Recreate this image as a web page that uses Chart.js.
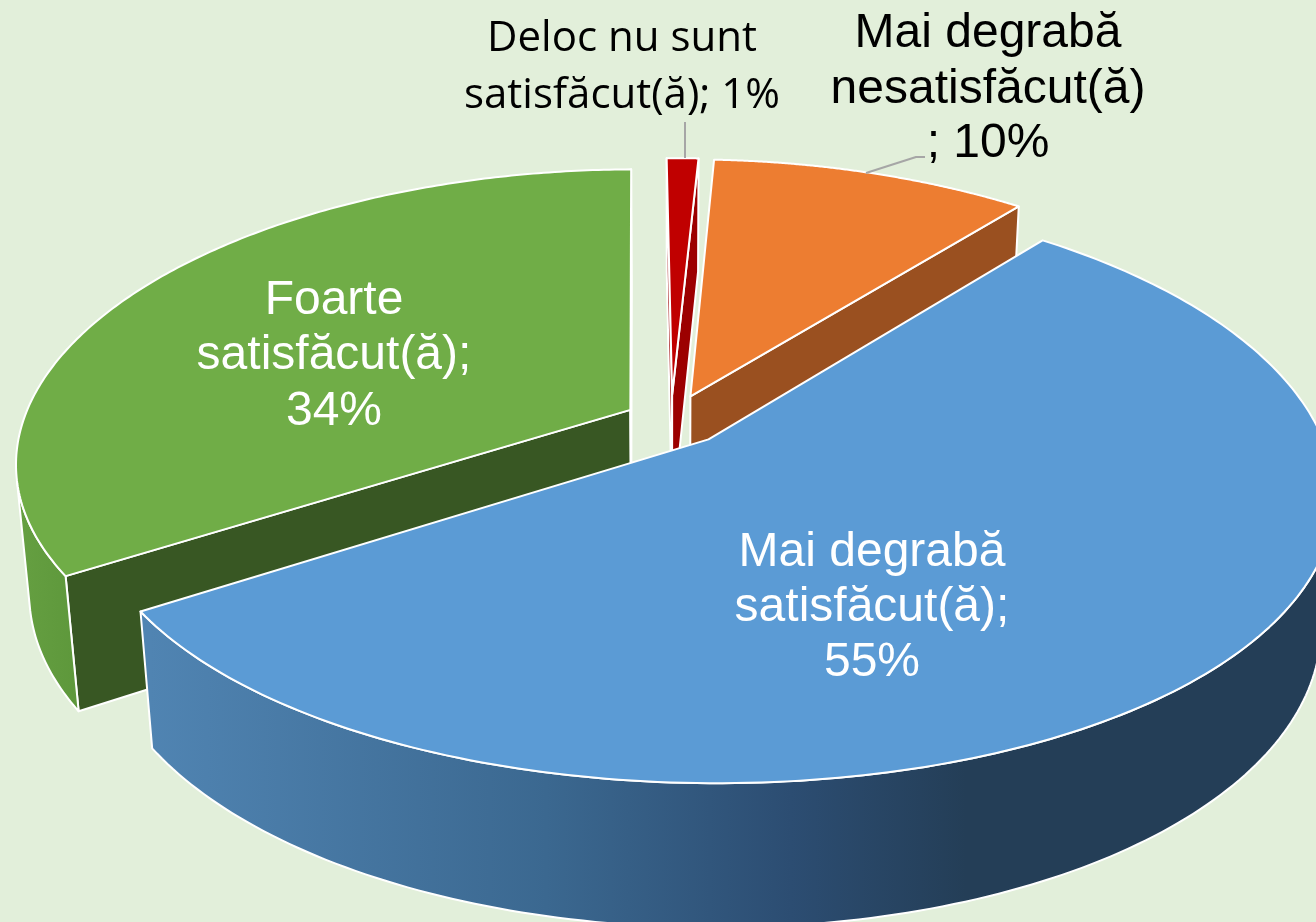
<!DOCTYPE html>
<html><head><meta charset="utf-8">
<style>html,body{margin:0;padding:0;background:#e2efda;overflow:hidden}canvas{display:block}</style>
<script src="https://cdn.jsdelivr.net/npm/chart.js@4"></script>
</head><body><div style="width:1316px;height:922px"><canvas id="c" width="1316" height="922"></canvas></div>
<script>
const categories=["Deloc nu sunt satisfăcut(ă)","Mai degrabă nesatisfăcut(ă)","Mai degrabă satisfăcut(ă)","Foarte satisfăcut(ă)"];
const values=[1,10,55,34];
const explode=[141,141,142,119];
const topColors=["#c00000","#ed7d31","#5b9bd5","#70ad47"];
const radialColors=["#9c0000","#9a5020","#2c4d72","#385723"];
const labelLines=[["Deloc nu sunt","satisfăcut(ă); 1%"],["Mai degrabă","nesatisfăcut(ă)","; 10%"],["Mai degrabă","satisfăcut(ă);","55%"],["Foarte","satisfăcut(ă);","34%"]];
const labelStyle=[
 {x:622,y:[51,108],font:'42px "Open Sans"',color:'#000'},
 {x:988,y:[47,103,157],font:'48px "Liberation Sans"',color:'#000'},
 {x:872,y:[566,621,676],font:'48px "Liberation Sans"',color:'#fff'},
 {x:334,y:[314,369,425],font:'48px "Liberation Sans"',color:'#fff'}];
const view={x0:671,y0:420,S:607,T:282,H:130,g:0.16,gx:0.18,k:0.02};
function project(u,v,z){const w=1-view.g*v+view.k*z,wx=1-view.gx*v+view.k*z;return [view.x0+view.S*u/wx,view.y0+(view.T*v+view.H*z)/w];}
function area(p){let s=0;p.forEach((q,i)=>{const r=p[(i+1)%p.length];s+=q[0]*r[1]-r[0]*q[1];});return s/2;}
const scene={id:'scene',
 beforeDatasetDraw(){return false;},
 afterDatasetsDraw(chart){
  const ctx=chart.ctx,arcs=chart.getDatasetMeta(0).data;
  const order=[0,1,3,2];
  for(const i of order){
   const a=arcs[i],R=a.outerRadius,mid=(a.startAngle+a.endAngle)/2,e=(a.options.offset/4)/R;
   const ox=Math.cos(mid)*e,oy=Math.sin(mid)*e;
   const pt=(ang,r,z)=>project(ox+r*Math.cos(ang),oy+r*Math.sin(ang),z);
   const poly=(pts,fill)=>{ctx.beginPath();pts.forEach((p,n)=>n?ctx.lineTo(p[0],p[1]):ctx.moveTo(p[0],p[1]));ctx.closePath();ctx.fillStyle=fill;ctx.fill();ctx.strokeStyle='#fff';ctx.lineWidth=2;ctx.lineJoin='round';ctx.stroke();};
   const N=200,sweep=[];for(let n=0;n<=N;n++)sweep.push(a.startAngle+(a.endAngle-a.startAngle)*n/N);
   // radial faces, only when turned towards the viewer
   const rs=[pt(0,0,0),pt(a.startAngle,1,0),pt(a.startAngle,1,1),pt(0,0,1)];
   const re=[pt(0,0,0),pt(a.endAngle,1,0),pt(a.endAngle,1,1),pt(0,0,1)];
   if(area(rs)<0)poly(rs,radialColors[i]);
   if(area(re)>0)poly(re,radialColors[i]);
   // outer face, only the part turned towards the viewer
   const vis=sweep.filter(s=>{const d=.002;return area([pt(s,1,0),pt(s+d,1,0),pt(s+d,1,1),pt(s,1,1)])<0;});
   let wall=radialColors[i];
   if(i===2){wall=ctx.createLinearGradient(150,0,1316,0);wall.addColorStop(0,'#5084b2');wall.addColorStop(.34,'#3b6890');wall.addColorStop(.55,'#2c4d72');wall.addColorStop(.7,'#243e57');wall.addColorStop(1,'#243e57');}
   if(i===3){wall=ctx.createLinearGradient(20,0,90,0);wall.addColorStop(0,'#659f41');wall.addColorStop(1,'#5c963a');}
   if(vis.length>1)poly(vis.map(s=>pt(s,1,0)).concat(vis.slice().reverse().map(s=>pt(s,1,1))),wall);
   poly([pt(0,0,0)].concat(sweep.map(s=>pt(s,1,0))),topColors[i]);
  }
  ctx.strokeStyle='#a6a6a6';ctx.lineWidth=2;
  ctx.beginPath();ctx.moveTo(685,158);ctx.lineTo(685,122);ctx.moveTo(866,173);ctx.lineTo(916,157);ctx.lineTo(925,157);ctx.stroke();
  ctx.textAlign='center';ctx.textBaseline='alphabetic';
  labelLines.forEach((ls,i)=>{const s=labelStyle[i];ctx.font=s.font;ctx.fillStyle=s.color;ls.forEach((t,j)=>ctx.fillText(t,s.x,s.y[j]));});
 }};
new Chart(document.getElementById('c'),{type:'pie',plugins:[scene],
 data:{labels:categories,datasets:[{data:values,backgroundColor:topColors,offset:explode,borderColor:'#fff',borderWidth:2}]},
 options:{responsive:false,animation:false,rotation:-0.6,layout:{padding:0},plugins:{legend:{display:false},tooltip:{enabled:false}}}});
</script></body></html>
